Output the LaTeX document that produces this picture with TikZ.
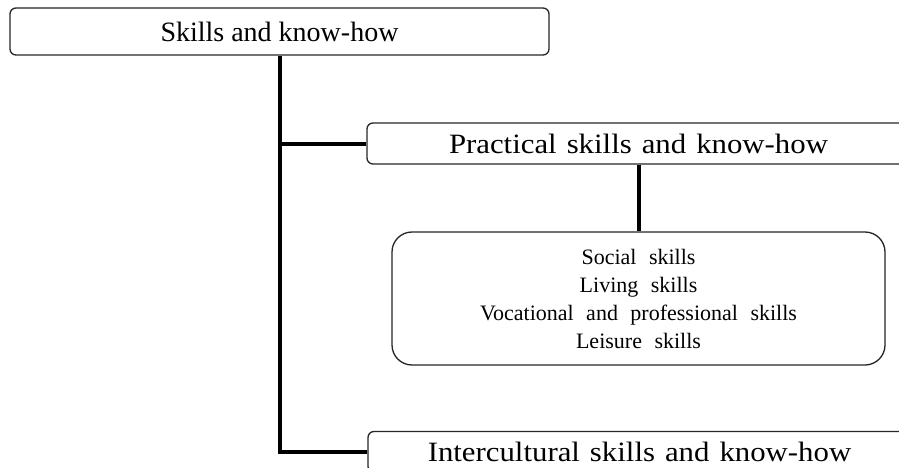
\documentclass[tikz,border=0pt]{standalone}
\usepackage{fontspec}
\setmainfont{Liberation Serif}
\newfontfamily\stretchserif[FakeStretch=1.1]{Liberation Serif}
\usetikzlibrary{calc}
\newcommand\widegap{\spaceskip=10pt\relax}
\newcommand\midgap{\spaceskip=12.5pt\relax}

\tikzset{
	box/.style={draw=black!85, line width=1.3pt, rounded corners=6pt, fill=white},
	bigtext/.style={font=\fontsize{28}{33}\selectfont},
	widetext/.style={font=\stretchserif\fontsize{28}{33}\selectfont\widegap},
	conn/.style={line width=4pt},
}

\begin{document}
\begin{tikzpicture}[x=1pt, y=-1pt]
			%%%%% START %%%%%
			\useasboundingbox (0, 0) rectangle (899, 468);
			\clip (0, 0) rectangle (899, 468);
			
			\node[box, bigtext, minimum width=539pt, minimum height=47pt] (skills) at (279.5, 31.5) {Skills and know-how};
			
			\node[box, widetext, minimum width=543pt, minimum height=41pt] (practical) at (638.5, 143.5) {Practical skills and know-how};
			
			\node[box, rounded corners=20pt, align=center, font=\fontsize{22}{28}\selectfont\midgap, minimum width=493pt, minimum height=133pt] (listing) at (638.5, 298.5) {Social skills\\Living skills\\Vocational and professional skills\\Leisure skills};
			
			\node[box, widetext, minimum width=543pt, minimum height=41pt] (intercultural) at (639.5, 452) {Intercultural skills and know-how};
			
			\draw[conn] (skills.south) |- (intercultural.west);
			\draw[conn] (skills.south |- practical.west) -- (practical.west);
			\draw[conn] (practical.south) -- (listing.north);
			%%%%% END %%%%%
\end{tikzpicture}
\end{document}
